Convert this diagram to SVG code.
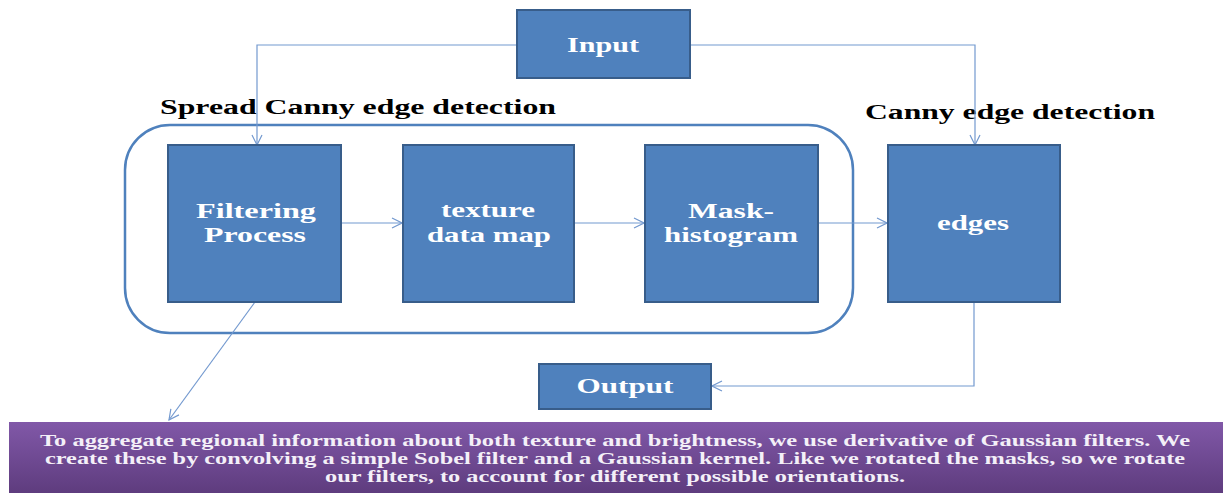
<svg xmlns="http://www.w3.org/2000/svg" width="1223" height="493" viewBox="0 0 1223 493">
<defs>
<style>
.box{fill:#4f81bd;stroke:#385d8a;stroke-width:2}
.nt{font-family:"Liberation Serif",serif;font-weight:bold;font-size:21px;fill:#ffffff;text-anchor:middle}
.tt{font-family:"Liberation Serif",serif;font-weight:bold;font-size:20px;fill:#000000}
.con{fill:none;stroke:#7399cf;stroke-width:1.2}
.pt{font-family:"Liberation Serif",serif;font-weight:bold;font-size:16px;fill:#f4f0f8}
</style>
<marker id="ah" viewBox="0 0 12 12" refX="11" refY="6" markerWidth="12" markerHeight="12" markerUnits="userSpaceOnUse" orient="auto">
<polyline points="1,1 11,6 1,11" fill="none" stroke="#7399cf" stroke-width="1.2"/>
</marker>
<linearGradient id="pg" x1="0" y1="0" x2="0" y2="1">
<stop offset="0" stop-color="#8158a8"/>
<stop offset="1" stop-color="#5e3c7e"/>
</linearGradient>
</defs>
<rect x="0" y="0" width="1223" height="493" fill="#ffffff"/>

<g id="container">
<rect x="125" y="125" width="728" height="208" rx="45" ry="45" fill="none" stroke="#4f81bd" stroke-width="2.5"/>
<text class="tt" x="160" y="114" textLength="396" lengthAdjust="spacingAndGlyphs">Spread Canny edge detection</text>
</g>
<g id="canny-label">
<text class="tt" x="865" y="119" textLength="290" lengthAdjust="spacingAndGlyphs">Canny edge detection</text>
</g>

<g id="connectors">
<polyline class="con" points="517,45 257,45 257,145" marker-end="url(#ah)"/>
<polyline class="con" points="690,45 975,45 975,145" marker-end="url(#ah)"/>
<line class="con" x1="341" y1="223" x2="402" y2="223" marker-end="url(#ah)"/>
<line class="con" x1="574" y1="223" x2="644" y2="223" marker-end="url(#ah)"/>
<line class="con" x1="818" y1="223" x2="887" y2="223" marker-end="url(#ah)"/>
<polyline class="con" points="974,302 974,386 712,386" marker-end="url(#ah)"/>
<line class="con" x1="255" y1="302" x2="169" y2="420" marker-end="url(#ah)"/>
</g>

<g id="input">
<rect class="box" x="517" y="10" width="173" height="68"/>
<text class="nt" x="603" y="52" textLength="72" lengthAdjust="spacingAndGlyphs">Input</text>
</g>
<g id="filtering">
<rect class="box" x="168" y="145" width="173" height="157"/>
<text class="nt" x="256" y="218" textLength="120" lengthAdjust="spacingAndGlyphs">Filtering</text>
<text class="nt" x="255" y="242" textLength="102" lengthAdjust="spacingAndGlyphs">Process</text>
</g>
<g id="texture">
<rect class="box" x="403" y="145" width="171" height="157"/>
<text class="nt" x="488" y="217" textLength="94" lengthAdjust="spacingAndGlyphs">texture</text>
<text class="nt" x="489" y="242" textLength="124" lengthAdjust="spacingAndGlyphs">data map</text>
</g>
<g id="mask">
<rect class="box" x="645" y="145" width="173" height="157"/>
<text class="nt" x="731" y="218" textLength="86" lengthAdjust="spacingAndGlyphs">Mask-</text>
<text class="nt" x="731" y="242" textLength="134" lengthAdjust="spacingAndGlyphs">histogram</text>
</g>
<g id="edges">
<rect class="box" x="888" y="145" width="172" height="157"/>
<text class="nt" x="973" y="230" textLength="72" lengthAdjust="spacingAndGlyphs">edges</text>
</g>
<g id="output">
<rect class="box" x="539" y="364" width="172" height="45"/>
<text class="nt" x="625" y="393" textLength="97" lengthAdjust="spacingAndGlyphs">Output</text>
</g>

<g id="note">
<rect x="9" y="422" width="1214" height="71" fill="url(#pg)"/>
<text class="pt" x="40" y="446" textLength="1150" lengthAdjust="spacingAndGlyphs">To aggregate regional information about both texture and brightness, we use derivative of Gaussian filters. We</text>
<text class="pt" x="45" y="464" textLength="1140" lengthAdjust="spacingAndGlyphs">create these by convolving a simple Sobel filter and a Gaussian kernel. Like we rotated the masks, so we rotate</text>
<text class="pt" x="325" y="482" textLength="580" lengthAdjust="spacingAndGlyphs">our filters, to account for different possible orientations.</text>
</g>
</svg>
